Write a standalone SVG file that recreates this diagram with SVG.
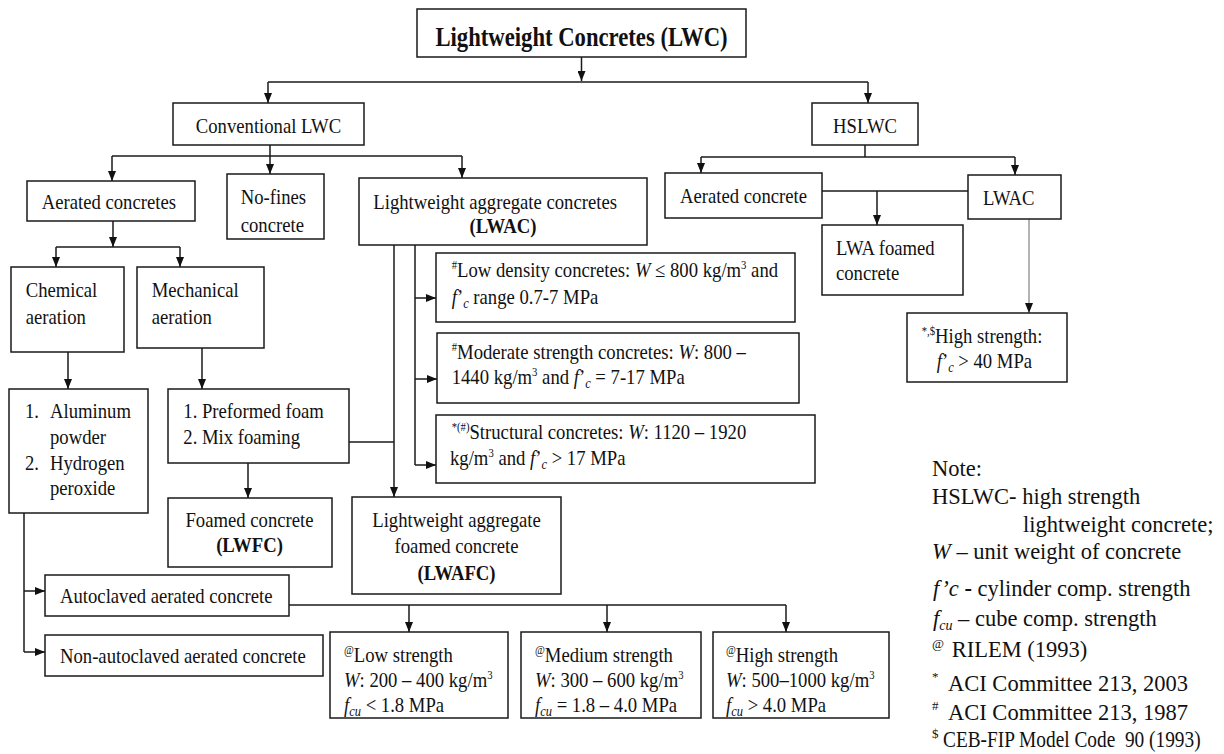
<svg xmlns="http://www.w3.org/2000/svg" width="1224" height="754" viewBox="0 0 1224 754">
<style>
.b{fill:#fff;stroke:#1a1a1a;stroke-width:1.5}
.c{fill:none;stroke:#1a1a1a;stroke-width:1.5}
.g{fill:none;stroke:#9a9a9a;stroke-width:1.5}
text{font-family:"Liberation Serif","Times New Roman",serif;fill:#111}
.t{font-size:21px}
.tb{font-size:21px;font-weight:bold}
.m{text-anchor:middle}
.title{font-size:27px;font-weight:bold;text-anchor:middle}
.i{font-style:italic}
.sup{font-size:12px}
.sub{font-size:14px}
.nt{font-size:22.5px}
.sup2{font-size:13px}
</style>
<defs>
<marker id="ah" markerWidth="10" markerHeight="8" refX="10" refY="4" orient="auto" markerUnits="userSpaceOnUse"><path d="M0,0 L10,4 L0,8 z" fill="#111"/></marker>
</defs>

<g id="connectors">
<path class="c" d="M581.5,57 V81" marker-end="url(#ah)"/>
<path class="c" d="M268,82 H868"/>
<path class="c" d="M268,82 V103" marker-end="url(#ah)"/>
<path class="c" d="M868,82 V103" marker-end="url(#ah)"/>
<path class="c" d="M865,145 V157"/>
<path class="c" d="M701,157 H1015"/>
<path class="c" d="M701,157 V173" marker-end="url(#ah)"/>
<path class="c" d="M1015,157 V175" marker-end="url(#ah)"/>
<path class="c" d="M270,145 V156"/>
<path class="c" d="M112,156 H462"/>
<path class="c" d="M112,156 V181" marker-end="url(#ah)"/>
<path class="c" d="M270,156 V174" marker-end="url(#ah)"/>
<path class="c" d="M462,156 V178" marker-end="url(#ah)"/>
<path class="c" d="M113,221 V247" marker-end="url(#ah)"/>
<path class="c" d="M56,247 H180"/>
<path class="c" d="M56,247 V267" marker-end="url(#ah)"/>
<path class="c" d="M180,247 V267" marker-end="url(#ah)"/>
<path class="c" d="M68,352 V389" marker-end="url(#ah)"/>
<path class="c" d="M202,348 V389" marker-end="url(#ah)"/>
<path class="c" d="M248,463 V498" marker-end="url(#ah)"/>
<path class="c" d="M349,442 H394"/>
<path class="c" d="M394,245 V497" marker-end="url(#ah)"/>
<path class="c" d="M415,245 V465"/>
<path class="c" d="M415,298 H436" marker-end="url(#ah)"/>
<path class="c" d="M415,379 H437" marker-end="url(#ah)"/>
<path class="c" d="M415,465 H436" marker-end="url(#ah)"/>
<path class="c" d="M24,513 V652"/>
<path class="c" d="M24,591 H45" marker-end="url(#ah)"/>
<path class="c" d="M24,652 H45" marker-end="url(#ah)"/>
<path class="c" d="M289,605 H786"/>
<path class="c" d="M409,605 V632" marker-end="url(#ah)"/>
<path class="c" d="M607,605 V632" marker-end="url(#ah)"/>
<path class="c" d="M786,605 V632" marker-end="url(#ah)"/>
<path class="c" d="M822,191 H968"/>
<path class="c" d="M877,191 V225" marker-end="url(#ah)"/>
<path class="g" d="M1029,219 V313" marker-end="url(#ah)"/>
</g>

<g id="n-lwc"><rect class="b" x="417" y="9" width="329" height="48"/>
<text class="title" transform="matrix(.84 0 0 1 581.5 46)">Lightweight Concretes (LWC)</text></g>

<g id="n-conv"><rect class="b" x="173" y="103" width="191" height="42"/>
<text class="t m" transform="matrix(.89 0 0 1 268.5 133)">Conventional LWC</text></g>

<g id="n-hslwc"><rect class="b" x="812" y="103" width="106" height="42"/>
<text class="t m" transform="matrix(.89 0 0 1 865 133)">HSLWC</text></g>

<g id="n-aerated"><rect class="b" x="27" y="181" width="168" height="40"/>
<text class="t" transform="matrix(.89 0 0 1 41.7 209)">Aerated concretes</text></g>

<g id="n-nofines"><rect class="b" x="227" y="174" width="97" height="65"/>
<text class="t" transform="matrix(.89 0 0 1 240.7 204)">No-fines</text>
<text class="t" transform="matrix(.89 0 0 1 240.7 231.5)">concrete</text></g>

<g id="n-lwac"><rect class="b" x="359" y="178" width="288" height="67"/>
<text class="t" transform="matrix(.89 0 0 1 373.3 208.5)">Lightweight aggregate concretes</text>
<text class="tb m" transform="matrix(.89 0 0 1 503 233)">(LWAC)</text></g>

<g id="n-chem"><rect class="b" x="11" y="267" width="113" height="85"/>
<text class="t" transform="matrix(.89 0 0 1 25.7 297)">Chemical</text>
<text class="t" transform="matrix(.89 0 0 1 25.7 323.5)">aeration</text></g>

<g id="n-mech"><rect class="b" x="137" y="267" width="127" height="81"/>
<text class="t" transform="matrix(.89 0 0 1 151.7 297)">Mechanical</text>
<text class="t" transform="matrix(.89 0 0 1 151.7 323.5)">aeration</text></g>

<g id="n-lowdens"><rect class="b" x="436" y="253" width="359" height="69"/>
<text class="t" transform="matrix(.89 0 0 1 451.7 277)"><tspan class="sup" dy="-8">#</tspan><tspan dy="8">Low density concretes: </tspan><tspan class="i">W</tspan> ≤ 800 kg/m<tspan class="sup" dy="-8">3</tspan><tspan dy="8"> and</tspan></text>
<text class="t" transform="matrix(.89 0 0 1 451.7 303.5)"><tspan class="i">f</tspan>’<tspan class="sub i" dy="4">c</tspan><tspan dy="-4"> range 0.7-7 MPa</tspan></text></g>

<g id="n-moderate"><rect class="b" x="437" y="333" width="362" height="70"/>
<text class="t" transform="matrix(.89 0 0 1 451.7 358.5)"><tspan class="sup" dy="-8">#</tspan><tspan dy="8">Moderate strength concretes: </tspan><tspan class="i">W</tspan>: 800 –</text>
<text class="t" transform="matrix(.89 0 0 1 451.7 384)">1440 kg/m<tspan class="sup" dy="-8">3</tspan><tspan dy="8"> and </tspan><tspan class="i">f</tspan>’<tspan class="sub i" dy="4">c</tspan><tspan dy="-4"> = 7-17 MPa</tspan></text></g>

<g id="n-structural"><rect class="b" x="436" y="415" width="379" height="68"/>
<text class="t" transform="matrix(.89 0 0 1 451.7 438.5)"><tspan class="sup" dy="-8">*(#)</tspan><tspan dy="8">Structural concretes: </tspan><tspan class="i">W</tspan>: 1120 – 1920</text>
<text class="t" transform="matrix(.89 0 0 1 450 465)">kg/m<tspan class="sup" dy="-8">3</tspan><tspan dy="8"> and </tspan><tspan class="i">f</tspan>’<tspan class="sub i" dy="4">c</tspan><tspan dy="-4"> &gt; 17 MPa</tspan></text></g>

<g id="n-alum"><rect class="b" x="9" y="389" width="139" height="124"/>
<text class="t" transform="matrix(.89 0 0 1 25 418)">1.</text>
<text class="t" transform="matrix(.89 0 0 1 50 418)">Aluminum</text>
<text class="t" transform="matrix(.89 0 0 1 50 444)">powder</text>
<text class="t" transform="matrix(.89 0 0 1 25 469.5)">2.</text>
<text class="t" transform="matrix(.89 0 0 1 50 469.5)">Hydrogen</text>
<text class="t" transform="matrix(.89 0 0 1 50 495)">peroxide</text></g>

<g id="n-preformed"><rect class="b" x="168" y="389" width="181" height="74"/>
<text class="t" transform="matrix(.89 0 0 1 183.3 418)">1. Preformed foam</text>
<text class="t" transform="matrix(.89 0 0 1 183.3 444)">2. Mix foaming</text></g>

<g id="n-foamed"><rect class="b" x="168" y="498" width="164" height="69"/>
<text class="t m" transform="matrix(.89 0 0 1 249.5 526.5)">Foamed concrete</text>
<text class="tb m" transform="matrix(.89 0 0 1 249.5 552)">(LWFC)</text></g>

<g id="n-lwafc"><rect class="b" x="352" y="497" width="209" height="97"/>
<text class="t m" transform="matrix(.89 0 0 1 456.5 527)">Lightweight aggregate</text>
<text class="t m" transform="matrix(.89 0 0 1 456.5 552.5)">foamed concrete</text>
<text class="tb m" transform="matrix(.89 0 0 1 456.5 580)">(LWAFC)</text></g>

<g id="n-autoclaved"><rect class="b" x="45" y="575" width="244" height="41"/>
<text class="t" transform="matrix(.89 0 0 1 60 603)">Autoclaved aerated concrete</text></g>

<g id="n-nonauto"><rect class="b" x="45" y="635" width="278" height="41"/>
<text class="t" transform="matrix(.89 0 0 1 60 663)">Non-autoclaved aerated concrete</text></g>

<g id="n-low"><rect class="b" x="330" y="632" width="178" height="86"/>
<text class="t" transform="matrix(.89 0 0 1 344 662)"><tspan class="sup" dy="-8">@</tspan><tspan dy="8">Low strength</tspan></text>
<text class="t" transform="matrix(.89 0 0 1 344 687)"><tspan class="i">W</tspan>: 200 – 400 kg/m<tspan class="sup" dy="-8">3</tspan></text>
<text class="t" transform="matrix(.89 0 0 1 344 712)"><tspan class="i">f</tspan><tspan class="sub i" dy="4">cu</tspan><tspan dy="-4"> &lt; 1.8 MPa</tspan></text></g>

<g id="n-med"><rect class="b" x="521" y="632" width="180" height="86"/>
<text class="t" transform="matrix(.89 0 0 1 535 662)"><tspan class="sup" dy="-8">@</tspan><tspan dy="8">Medium strength</tspan></text>
<text class="t" transform="matrix(.89 0 0 1 535 687)"><tspan class="i">W</tspan>: 300 – 600 kg/m<tspan class="sup" dy="-8">3</tspan></text>
<text class="t" transform="matrix(.89 0 0 1 535 712)"><tspan class="i">f</tspan><tspan class="sub i" dy="4">cu</tspan><tspan dy="-4"> = 1.8 – 4.0 MPa</tspan></text></g>

<g id="n-high"><rect class="b" x="713" y="632" width="176" height="86"/>
<text class="t" transform="matrix(.89 0 0 1 726 662)"><tspan class="sup" dy="-8">@</tspan><tspan dy="8">High strength</tspan></text>
<text class="t" transform="matrix(.89 0 0 1 726 687)"><tspan class="i">W</tspan>: 500–1000 kg/m<tspan class="sup" dy="-8">3</tspan></text>
<text class="t" transform="matrix(.89 0 0 1 726 712)"><tspan class="i">f</tspan><tspan class="sub i" dy="4">cu</tspan><tspan dy="-4"> &gt; 4.0 MPa</tspan></text></g>

<g id="n-aer2"><rect class="b" x="665" y="173" width="157" height="45"/>
<text class="t" transform="matrix(.89 0 0 1 680 203)">Aerated concrete</text></g>

<g id="n-lwac2"><rect class="b" x="968" y="175" width="93" height="44"/>
<text class="t" transform="matrix(.89 0 0 1 983 205)">LWAC</text></g>

<g id="n-lwafoam"><rect class="b" x="822" y="225" width="141" height="70"/>
<text class="t" transform="matrix(.89 0 0 1 836 255)">LWA foamed</text>
<text class="t" transform="matrix(.89 0 0 1 836 280)">concrete</text></g>

<g id="n-hs"><rect class="b" x="907" y="313" width="160" height="69"/>
<text class="t" transform="matrix(.89 0 0 1 921.7 342.5)"><tspan class="sup" dy="-8">*,$</tspan><tspan dy="8">High strength:</tspan></text>
<text class="t" transform="matrix(.89 0 0 1 936.7 368)"><tspan class="i">f</tspan>’<tspan class="sub i" dy="4">c</tspan><tspan dy="-4"> &gt; 40 MPa</tspan></text></g>

<g id="notes">
<text class="nt" x="932" y="476">Note:</text>
<text class="nt" x="932" y="504">HSLWC- high strength</text>
<text class="nt" x="1023" y="531.5">lightweight concrete;</text>
<text class="nt" x="932" y="559"><tspan class="i">W</tspan> – unit weight of concrete</text>
<text class="nt" x="933" y="596"><tspan class="i">f’c</tspan><tspan font-weight="bold"> -</tspan> cylinder comp. strength</text>
<text class="nt" x="933" y="626"><tspan class="i">f</tspan><tspan class="sub i" dy="4">cu</tspan><tspan dy="-4"> – cube comp. strength</tspan></text>
<text class="nt" x="932" y="657"><tspan class="sup2" dy="-9">@</tspan><tspan x="951.7" dy="9">RILEM (1993)</tspan></text>
<text class="nt" x="932" y="690.5"><tspan class="sup2" dy="-10">*</tspan><tspan x="948" dy="10">ACI Committee 213, 2003</tspan></text>
<text class="nt" x="932" y="720"><tspan class="sup2" dy="-10">#</tspan><tspan x="948" dy="10">ACI Committee 213, 1987</tspan></text>
<text class="nt" x="932" y="747"><tspan class="sup2" dy="-9">$</tspan></text>
<text class="nt" font-size="22px" transform="matrix(.86 0 0 1 943 747)">CEB-FIP Model Code&#160; 90 (1993)</text>
</g>
</svg>
